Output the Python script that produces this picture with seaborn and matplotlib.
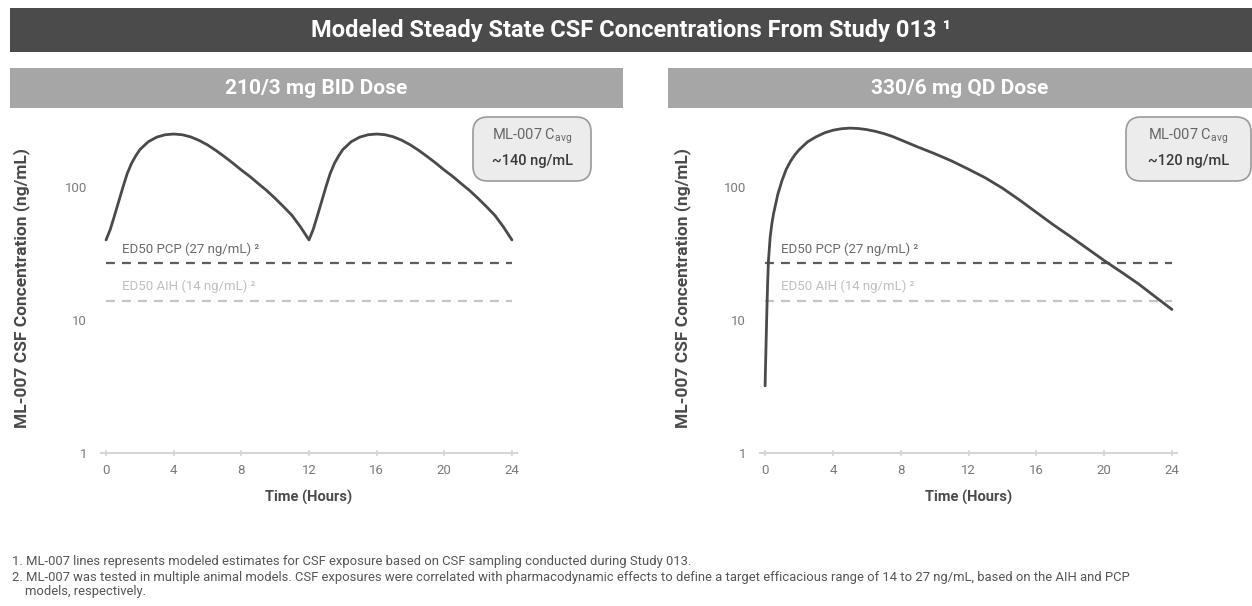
import matplotlib
matplotlib.use("Agg")
import matplotlib.pyplot as plt
from matplotlib.patches import Rectangle, FancyBboxPatch
import seaborn as sns
import pandas as pd

# ---------------- data ----------------
bid_time = [0, 0.25, 0.5, 0.75, 1, 1.25, 1.5, 1.75, 2, 2.5, 3, 3.5, 4, 4.5, 5, 5.5, 6, 6.5, 7, 7.5,
            8, 8.5, 9, 9.5, 10, 10.5, 11, 11.5, 12,
            12.25, 12.5, 12.75, 13, 13.25, 13.5, 13.75, 14, 14.5, 15, 15.5, 16, 16.5, 17, 17.5, 18, 18.5, 19, 19.5,
            20, 20.5, 21, 21.5, 22, 22.5, 23, 23.5, 24]
bid_conc = [40, 48, 61, 78, 100, 126, 150, 171, 191, 219, 237, 247, 250, 247, 238, 224, 207, 188, 169, 151,
            134, 120, 106, 94, 82, 71, 61, 50, 40,
            48, 61, 78, 100, 126, 150, 171, 191, 219, 237, 247, 250, 247, 238, 224, 207, 188, 169, 151,
            134, 120, 106, 94, 82, 71, 61, 50, 40]

qd_time = [0, 0.05, 0.1, 0.15, 0.2, 0.3, 0.4, 0.5, 0.75, 1, 1.25, 1.5, 1.75, 2, 2.5, 3, 3.5, 4, 4.5,
           5, 5.5, 6, 6.5, 7, 7.5, 8, 9, 10, 11, 12, 13, 14, 15, 16, 17, 18, 19, 20, 21, 22, 23, 24]
qd_conc = [3.2, 6, 11, 19, 28, 42, 53, 63, 88, 112, 136, 156, 174, 190, 218, 238, 255, 267, 274,
           277, 275, 270, 262, 252, 240, 226, 200, 178, 157, 136, 117, 98, 80, 64.5, 52, 42.5, 34.5, 28, 23,
           18.8, 15, 12]

panel_titles = ["210/3 mg BID Dose", "330/6 mg QD Dose"]
cavg_values = ["~140 ng/mL", "~120 ng/mL"]
ed50_values = [27, 14]
ed50_labels = ["ED50 PCP (27 ng/mL) \u00b2", "ED50 AIH (14 ng/mL) \u00b2"]
ed50_colors = ["#5c5c5c", "#c4c4c4"]
ed50_text_colors = ["#6a6a6a", "#c0c0c0"]
x_ticks = [0, 4, 8, 12, 16, 20, 24]
y_ticks = [1, 10, 100]
y_tick_labels = ["1", "10", "100"]
main_title = "Modeled Steady State CSF Concentrations From Study 013 \u00b9"
footnotes = [
    "1. ML-007 lines represents modeled estimates for CSF exposure based on CSF sampling conducted during Study 013.",
    "2. ML-007 was tested in multiple animal models. CSF exposures were correlated with pharmacodynamic effects to define a target efficacious range of 14 to 27 ng/mL, based on the AIH and PCP",
    "    models, respectively.",
]

df = pd.concat([
    pd.DataFrame({"time": bid_time, "conc": bid_conc, "panel": panel_titles[0]}),
    pd.DataFrame({"time": qd_time, "conc": qd_conc, "panel": panel_titles[1]}),
])

# ---------------- style ----------------
sns.set_theme(style="white")
plt.rcParams["font.family"] = ["Roboto", "DejaVu Sans"]

W, H = 1252, 606
fig = plt.figure(figsize=(W / 100, H / 100), dpi=100)
fig.patch.set_facecolor("white")


def fx(x):
    return x / W


def fy(y):
    return 1 - y / H


# title bar
fig.patches.append(Rectangle((fx(10), fy(52)), fx(1242), 44 / H, transform=fig.transFigure,
                             facecolor="#4b4b4b", edgecolor="none"))
fig.text(fx(631), fy(30), main_title, ha="center", va="center", color="white",
         fontsize=17, fontweight="bold")

# panel geometry (pixels)
panels = [
    dict(bar=(10, 623), ax=(101, 517), box=(474, 590), label_x=22),
    dict(bar=(668, 1252), ax=(760, 1177), box=(1127, 1250), label_x=683),
]
y_top_px, y_bot_px = 123.5, 453

for i, p in enumerate(panels):
    b0, b1 = p["bar"]
    fig.patches.append(Rectangle((fx(b0), fy(108)), fx(b1 - b0), 40 / H, transform=fig.transFigure,
                                 facecolor="#a6a6a6", edgecolor="none"))
    fig.text(fx((b0 + b1) / 2), fy(88), panel_titles[i], ha="center", va="center",
             color="white", fontsize=15, fontweight="bold")

    a0, a1 = p["ax"]
    ax = fig.add_axes([fx(a0), fy(y_bot_px), fx(a1 - a0), (y_bot_px - y_top_px) / H])
    ax.set_facecolor("none")
    sub = df[df["panel"] == panel_titles[i]]
    sns.lineplot(data=sub, x="time", y="conc", ax=ax, color="#4a4a4a", lw=2.0,
                 estimator=None, sort=False, zorder=5)
    ax.set_yscale("log")
    ax.set_ylim(1, 300)
    ax.set_xlim(-0.3, 24.3)
    ax.set_yticks(y_ticks)
    ax.set_yticklabels(y_tick_labels)
    ax.yaxis.set_minor_locator(matplotlib.ticker.NullLocator())
    ax.set_xticks(x_ticks)
    ax.set_xticklabels([str(t) for t in x_ticks])
    for s in ["top", "right", "left"]:
        ax.spines[s].set_visible(False)
    ax.spines["bottom"].set_color("#d6d6d6")
    ax.spines["bottom"].set_linewidth(1.5)
    ax.tick_params(axis="x", colors="#d6d6d6", labelcolor="#7a7a7a", labelsize=9.5,
                   length=4, width=1.2, direction="inout", pad=6, bottom=True)
    ax.tick_params(axis="y", labelcolor="#7a7a7a", labelsize=9.5, length=0, pad=10)

    for v, lab, c, tc in zip(ed50_values, ed50_labels, ed50_colors, ed50_text_colors):
        ax.hlines(v, 0, 24, colors=c, linestyles=(0, (4, 3.2)), lw=1.6, zorder=3)
        ax.text(0.95, v * 1.13, lab, ha="left", va="bottom", color=tc, fontsize=9.5)

    ax.set_xlabel("Time (Hours)", fontsize=10.5, fontweight="bold", color="#4a4a4a")
    ax.xaxis.set_label_coords(0.5, -(497 - y_bot_px) / (y_bot_px - y_top_px), transform=ax.transAxes)
    ax.xaxis.label.set_va("center")
    ax.set_ylabel("ML-007 CSF Concentration (ng/mL)", fontsize=12.5, fontweight="bold", color="#4a4a4a")
    ax.yaxis.set_label_coords(-(a0 - p["label_x"]) / (a1 - a0), 0.5, transform=ax.transAxes)
    ax.yaxis.label.set_va("center")

    # C_avg box
    x0, x1 = p["box"]
    fig.patches.append(FancyBboxPatch((fx(x0 + 4), fy(176)), fx(x1 - x0 - 8), 54 / H,
                                      boxstyle="round,pad=0.004,rounding_size=0.012",
                                      transform=fig.transFigure, facecolor="#ececec",
                                      edgecolor="#9a9a9a", lw=1.2, mutation_aspect=W / H))
    cx = fx((x0 + x1) / 2)
    fig.text(cx, fy(136), "ML-007 C$_{\\mathregular{avg}}$", ha="center", va="center",
             color="#666666", fontsize=10.5)
    fig.text(cx, fy(161), cavg_values[i], ha="center", va="center",
             color="#3a3a3a", fontsize=10.5, fontweight="medium")

# footnotes
for k, (txt, yy) in enumerate(zip(footnotes, [562, 577, 591])):
    fig.text(fx(12), fy(yy), txt, ha="left", va="center", color="#555555", fontsize=9.4)

fig.savefig("out.png", dpi=100, facecolor="white")
